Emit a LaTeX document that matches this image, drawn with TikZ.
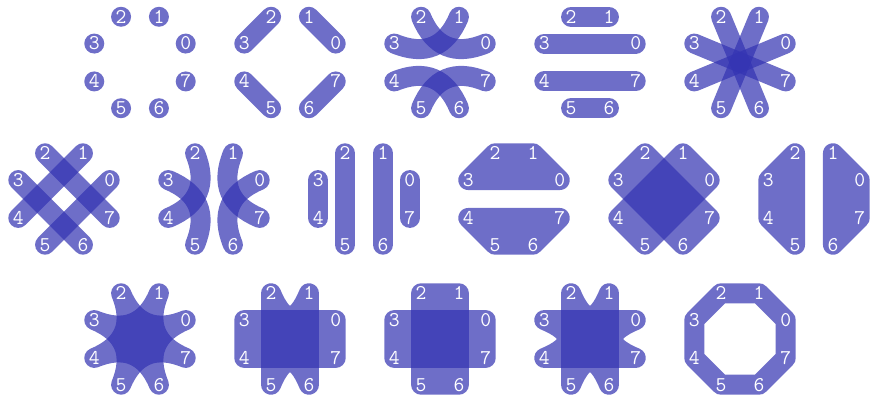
\documentclass[tikz,border=0pt]{standalone}
\usepackage{fontspec}
\usetikzlibrary{calc}
\definecolor{bcol}{RGB}{51,51,178}
\tikzset{
  bar/.style={draw=bcol, line width=20pt, line cap=round, opacity=.71},
  blk/.style={draw=bcol, fill=bcol, line width=20pt, line cap=round, line join=round},
  ring/.style={draw=bcol, line width=20pt, line join=round, opacity=.71},
  dot/.style={fill=bcol, opacity=.71},
  lab/.style={text=white, font=\fontsize{21}{24}\selectfont\ttfamily, inner sep=0pt},
  grp/.style={transparency group, opacity=.71},
  viac/.style={to path={.. controls ($(\tikztostart)!0.6667!(#1)$) and ($(\tikztotarget)!0.6667!(#1)$) .. (\tikztotarget)}},
}
\newcommand\octpanel[3]{%
  \coordinate (#1c) at (#2,#3);
  \foreach \i in {0,...,7}{\coordinate (#1\i) at ($(#1c)+({22.5+45*\i}:49.5)$);}%
}
\newcommand\octlabs[1]{\foreach \i in {0,...,7}{\node[lab] (#1l\i) at (#1\i) {\i};}}
\newcommand\gbox[1]{\path (#1c) ++(-56,-56) rectangle ++(112,112);}
\begin{document}
\begin{tikzpicture}[x=1pt,y=1pt]
\path (0,0) rectangle (870,396);
% ---------- row 1 ----------
\octpanel{a}{140}{333.5}
\foreach \i in {0,...,7}{\fill[dot] (a\i) circle (10);}
\octlabs{a}

\octpanel{b}{290}{333.5}
\draw[bar] (b2) -- (b3);
\draw[bar] (b1) -- (b0);
\draw[bar] (b4) -- (b5);
\draw[bar] (b7) -- (b6);
\octlabs{b}

\octpanel{c}{440}{333.5}
\draw[bar] (c3) to[viac=cc] (c1);
\draw[bar] (c2) to[viac=cc] (c0);
\draw[bar] (c4) to[viac=cc] (c6);
\draw[bar] (c5) to[viac=cc] (c7);
\octlabs{c}

\octpanel{d}{590}{333.5}
\draw[bar] (d2) -- (d1);
\draw[bar] (d3) -- (d0);
\draw[bar] (d4) -- (d7);
\draw[bar] (d5) -- (d6);
\octlabs{d}

\octpanel{e}{740}{333.5}
\draw[bar] (e0) -- (e4);
\draw[bar] (e1) -- (e5);
\draw[bar] (e2) -- (e6);
\draw[bar] (e3) -- (e7);
\octlabs{e}
% ---------- row 2 ----------
\octpanel{f}{64}{197}
\draw[bar] (f2) -- (f7);
\draw[bar] (f1) -- (f4);
\draw[bar] (f3) -- (f6);
\draw[bar] (f0) -- (f5);
\octlabs{f}

\octpanel{g}{214}{197}
\draw[bar] (g3) to[viac=gc] (g5);
\draw[bar] (g2) to[viac=gc] (g4);
\draw[bar] (g1) to[viac=gc] (g7);
\draw[bar] (g0) to[viac=gc] (g6);
\octlabs{g}

\octpanel{h}{364}{197}
\draw[bar] (h3) -- (h4);
\draw[bar] (h2) -- (h5);
\draw[bar] (h1) -- (h6);
\draw[bar] (h0) -- (h7);
\octlabs{h}

\octpanel{i}{514}{197}
\begin{scope}[grp]\gbox{i}\filldraw[blk] (i3) -- (i2) -- (i1) -- (i0) -- cycle;\end{scope}
\begin{scope}[grp]\gbox{i}\filldraw[blk] (i4) -- (i5) -- (i6) -- (i7) -- cycle;\end{scope}
\octlabs{i}

\octpanel{j}{664}{197}
\begin{scope}[grp]\gbox{j}\filldraw[blk] (j2) -- (j3) -- (j6) -- (j7) -- cycle;\end{scope}
\begin{scope}[grp]\gbox{j}\filldraw[blk] (j0) -- (j1) -- (j4) -- (j5) -- cycle;\end{scope}
\octlabs{j}

\octpanel{k}{814}{197}
\begin{scope}[grp]\gbox{k}\filldraw[blk] (k2) -- (k3) -- (k4) -- (k5) -- cycle;\end{scope}
\begin{scope}[grp]\gbox{k}\filldraw[blk] (k6) -- (k7) -- (k0) -- (k1) -- cycle;\end{scope}
\octlabs{k}
% ---------- row 3 ----------
\octpanel{l}{140}{57}
\begin{scope}[grp]\gbox{l}\filldraw[blk] (l1) to[viac=lc] (l3) to[viac=lc] (l5) to[viac=lc] (l7) to[viac=lc] (l1) -- cycle;\end{scope}
\begin{scope}[grp]\gbox{l}\filldraw[blk] (l0) to[viac=lc] (l2) to[viac=lc] (l4) to[viac=lc] (l6) to[viac=lc] (l0) -- cycle;\end{scope}
\octlabs{l}

\octpanel{m}{290}{57}
\begin{scope}[grp]\gbox{m}\filldraw[blk] (m2) to[viac=mc] (m1) -- (m6) to[viac=mc] (m5) -- cycle;\end{scope}
\begin{scope}[grp]\gbox{m}\filldraw[blk] (m3) -- (m0) -- (m7) -- (m4) -- cycle;\end{scope}
\octlabs{m}

\octpanel{n}{440}{57}
\begin{scope}[grp]\gbox{n}\filldraw[blk] (n2) -- (n1) -- (n6) -- (n5) -- cycle;\end{scope}
\begin{scope}[grp]\gbox{n}\filldraw[blk] (n3) -- (n0) -- (n7) -- (n4) -- cycle;\end{scope}
\octlabs{n}

\octpanel{o}{590}{57}
\begin{scope}[grp]\gbox{o}\filldraw[blk] (o2) to[viac=oc] (o1) -- (o6) to[viac=oc] (o5) -- cycle;\end{scope}
\begin{scope}[grp]\gbox{o}\filldraw[blk] (o3) -- (o0) to[viac=oc] (o7) -- (o4) to[viac=oc] (o3) -- cycle;\end{scope}
\octlabs{o}

\octpanel{p}{740}{57}
\draw[ring] (p0) -- (p1) -- (p2) -- (p3) -- (p4) -- (p5) -- (p6) -- (p7) -- cycle;
\octlabs{p}
\end{tikzpicture}
\end{document}
